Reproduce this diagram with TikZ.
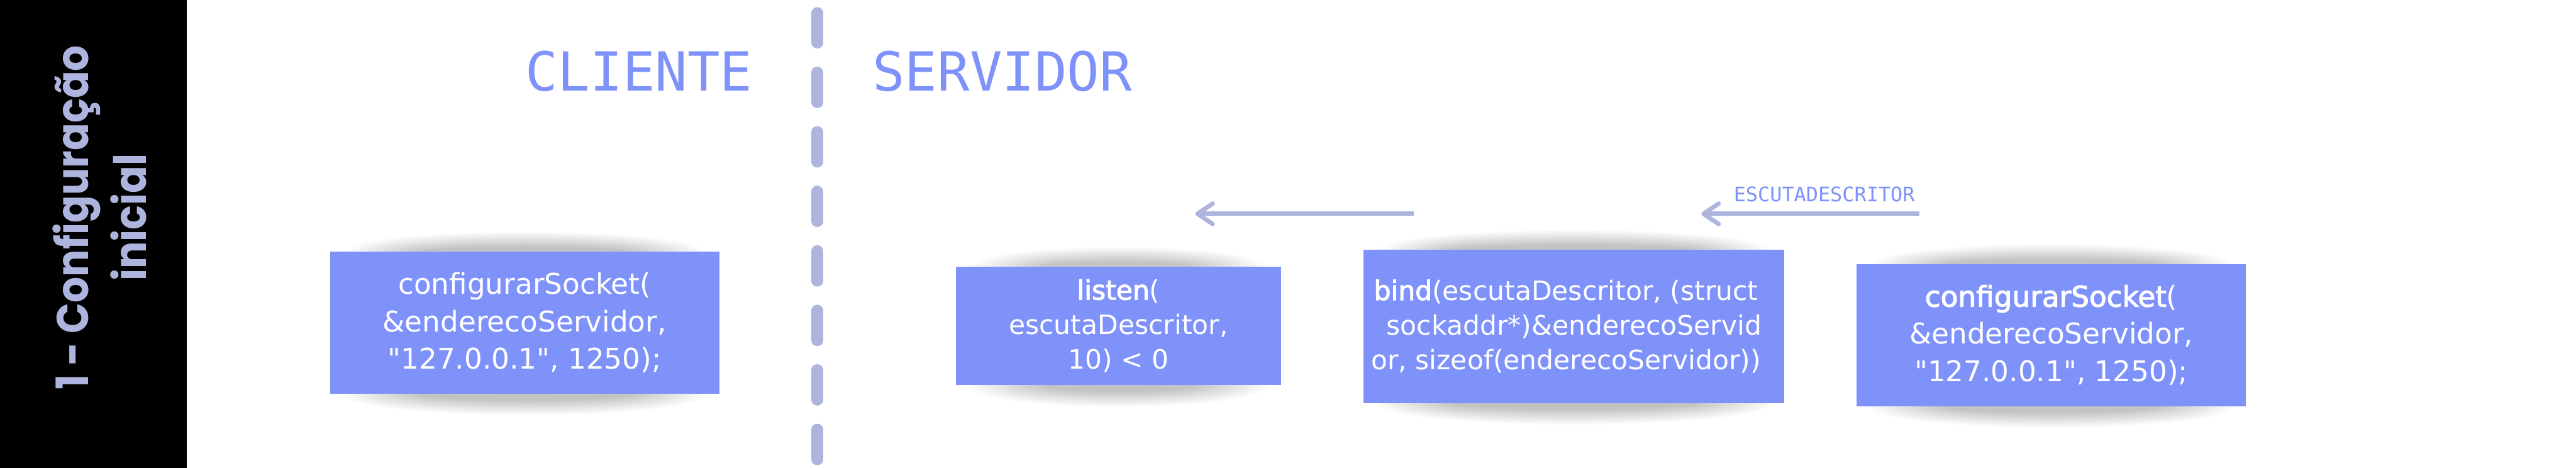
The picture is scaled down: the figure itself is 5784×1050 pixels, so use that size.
\documentclass[tikz,border=0pt]{standalone}
\usepackage{fontspec}
\setmainfont{DejaVu Sans}
\newfontfamily\boxfont{DejaVu Sans}[BoldFont={DejaVu Sans}, BoldFeatures={FakeBold=2.5}]
\newfontfamily\sidefont{Poppins}
\newfontfamily\titlemono{DejaVu Sans Mono}
\usetikzlibrary{arrows.meta}
\definecolor{boxblue}{HTML}{7F92FA}
\definecolor{lav}{HTML}{ADB4DE}
\definecolor{titleblue}{HTML}{7F92FA}
\pgfdeclarelayer{bglayer}
\pgfdeclarelayer{shadowlayer}
\pgfsetlayers{bglayer,shadowlayer,main}
\newcommand{\shl}{\hspace*{9pt}}
\begin{document}
\begin{tikzpicture}[x=0.25pt, y=-0.25pt,
  boxnode/.style={rectangle, fill=boxblue, text=white, inner sep=0pt, align=center, anchor=north west},
  bigtext/.style={font={\boxfont\fontsize{16pt}{21pt}\selectfont}},
  smalltext/.style={font={\boxfont\fontsize{15pt}{19.5pt}\selectfont}},
  sidetext/.style={text=lav, rotate=90, anchor=base, inner sep=0pt, font={\sidefont\bfseries\fontsize{25pt}{30pt}\selectfont}},
  titletext/.style={text=titleblue, anchor=base, inner sep=0pt, font={\titlemono\fontsize{30.25pt}{36pt}\selectfont}},
  labeltext/.style={text=titleblue, anchor=base, inner sep=0pt, font={\titlemono\fontsize{11.25pt}{14pt}\selectfont}},
  divider/.style={draw=lav, line width=6.5pt, line cap=round, dash pattern=on 16.75pt off 16.65pt},
  flowarrow/.style={draw=lav, line width=2.45pt, -{Straight Barb[length=8.5pt, width=11.5pt, round]}},
]
\begin{pgfonlayer}{bglayer}
  \fill[white] (0,0) rectangle (5784,1050);
  \fill[black] (0,0) rectangle (420,1050);
\end{pgfonlayer}
\useasboundingbox (0,0) rectangle (5784,1050);

% sidebar title
\node[sidetext] (side1) at (198,488) {\scalebox{0.91}[1]{1 - Configuração}};
\node[sidetext] (side2) at (329,488) {\scalebox{0.91}[1]{inicial}};

% column titles
\node[titletext] (cliente) at (1434.5,204) {CLIENTE};
\node[titletext] (servidor) at (2250.5,204) {SERVIDOR};

% divider
\coordinate (dtop) at (1835,29);
\coordinate (dbot) at (1835,1032);
\draw[divider] (dtop) -- (dbot);

% boxes
\node[boxnode, bigtext, minimum width=218.5pt, minimum height=79.75pt] (b1) at (740,564)
  {configurarSocket(\\\&enderecoServidor,\\"127.0.0.1", 1250);};
\node[boxnode, smalltext, minimum width=182.75pt, minimum height=66.5pt] (b2) at (2145,598)
  {\textbf{listen}(\\escutaDescritor,\\10) < 0};
\node[boxnode, smalltext, minimum width=236.25pt, minimum height=86pt] (b3) at (3061,560)
  {\textbf{bind}(escutaDescritor, (struct\shl\\sockaddr*)\&enderecoServid\shl\\or, sizeof(enderecoServidor))\shl};
\node[boxnode, bigtext, minimum width=218.5pt, minimum height=79.75pt] (b4) at (4168,592)
  {\textbf{configurarSocket}(\\\&enderecoServidor,\\"127.0.0.1", 1250);};

% shadows
\begin{pgfonlayer}{shadowlayer}
\foreach \n/\rx in {b1/400, b2/328, b3/435, b4/400} {
  \foreach \k in {0,...,19} {
    \fill[black, opacity=0.011] (\n.north) ellipse [x radius={(\rx-9*\k)*0.25pt}, y radius={(44-1.8*\k)*0.25pt}];
    \fill[black, opacity=0.011] (\n.south) ellipse [x radius={(\rx+10-9*\k)*0.25pt}, y radius={(48-1.8*\k)*0.25pt}];
  }
}
\end{pgfonlayer}

% arrows
\coordinate (a1s) at (3174,480);
\coordinate (a1e) at (2684,480);
\draw[flowarrow] (a1s) -- (a1e);
\coordinate (a2s) at (4310,480);
\coordinate (a2e) at (3820,480);
\draw[flowarrow] (a2s) -- (a2e);
\node[labeltext] (lbl) at (4096,453) {ESCUTADESCRITOR};
\end{tikzpicture}
\end{document}
